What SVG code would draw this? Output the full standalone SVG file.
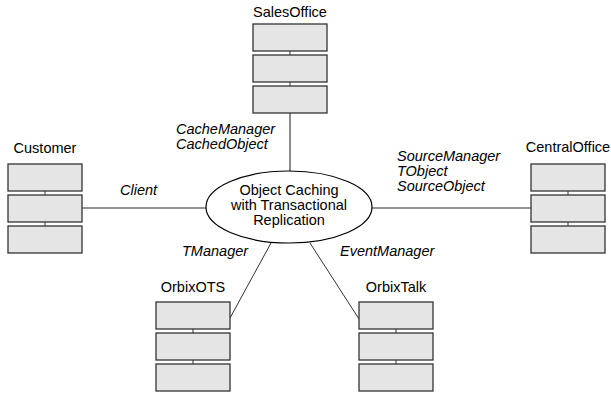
<svg xmlns="http://www.w3.org/2000/svg" width="611" height="393" viewBox="0 0 611 393">
<style>
text{font-family:"Liberation Sans",Arial,sans-serif;font-size:14.5px;fill:#000}
.i{font-style:italic}
.c{text-anchor:middle}
.b{fill:#e5e5e5;stroke:#333;stroke-width:1.3}
.k{stroke:#555;stroke-width:1.2}
.ln{stroke:#707070;stroke-width:1.6;fill:none}
.dl{stroke:#333;stroke-width:1;fill:none}
</style>
<defs>
<g id="stack">
<line class="k" x1="37" y1="27" x2="37" y2="31"/>
<line class="k" x1="37" y1="58" x2="37" y2="62"/>
<rect class="b" x="0" y="0" width="74" height="27"/>
<rect class="b" x="0" y="31" width="74" height="27"/>
<rect class="b" x="0" y="62" width="74" height="27"/>
</g>
</defs>
<g id="connectors">
<line class="ln" x1="290" y1="113" x2="290" y2="171"/>
<line class="ln" x1="82" y1="208" x2="206" y2="208"/>
<line class="ln" x1="371" y1="208" x2="531" y2="208"/>
<line class="dl" x1="230" y1="318" x2="271" y2="243"/>
<line class="dl" x1="359" y1="319" x2="310" y2="243"/>
<text class="i" x="176" y="134">CacheManager</text>
<text class="i" x="176" y="149">CachedObject</text>
<text class="i" x="120" y="195">Client</text>
<text class="i" x="397" y="161">SourceManager</text>
<text class="i" x="397" y="176">TObject</text>
<text class="i" x="397" y="191">SourceObject</text>
<text class="i" x="182" y="256">TManager</text>
<text class="i" x="340" y="256">EventManager</text>
</g>
<g id="center">
<ellipse cx="289" cy="207" rx="83" ry="36" fill="#fff" stroke="#000" stroke-width="1.2"/>
<text class="c" x="289" y="195">Object Caching</text>
<text class="c" x="289" y="210">with Transactional</text>
<text class="c" x="289" y="225">Replication</text>
</g>
<g id="SalesOffice">
<text class="c" x="290" y="17">SalesOffice</text>
<use href="#stack" x="253" y="24"/>
</g>
<g id="Customer">
<text class="c" x="45" y="153">Customer</text>
<use href="#stack" x="8" y="164"/>
</g>
<g id="CentralOffice">
<text class="c" x="568" y="152">CentralOffice</text>
<use href="#stack" x="531" y="164"/>
</g>
<g id="OrbixOTS">
<text class="c" x="193" y="292">OrbixOTS</text>
<use href="#stack" x="156" y="302"/>
</g>
<g id="OrbixTalk">
<text class="c" x="396" y="292">OrbixTalk</text>
<use href="#stack" x="359" y="302"/>
</g>
</svg>
